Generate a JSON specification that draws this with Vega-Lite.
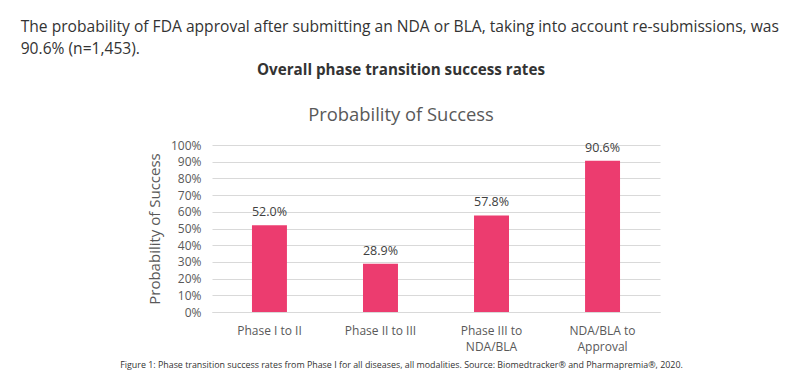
{
  "$schema": "https://vega.github.io/schema/vega-lite/v6.json",
  "padding": {"left": 20, "top": 20, "right": 5, "bottom": 5},
  "background": "white",
  "config": {"view": {"stroke": null}, "font": "Open Sans", "concat": {"spacing": 0}},
  "title": {
    "text": ["The probability of FDA approval after submitting an NDA or BLA, taking into account re-submissions, was", "90.6% (n=1,453)."],
    "anchor": "start", "frame": "bounds", "dx": -99,
    "font": "Open Sans", "fontSize": 15.6, "fontWeight": "normal", "color": "#333333", "lineHeight": 22, "offset": 5
  },
  "vconcat": [
    {
      "title": {"text": "Overall phase transition success rates", "anchor": "middle", "font": "Open Sans", "fontSize": 15.2, "fontWeight": "bold", "color": "#333333", "offset": 28},
      "vconcat": [
        {
          "width": 448,
          "height": 167,
          "data": {"values": [
            {"phase": "Phase I to II", "rate": 0.520},
            {"phase": "Phase II to III", "rate": 0.289},
            {"phase": "Phase III to NDA/BLA", "rate": 0.578},
            {"phase": "NDA/BLA to Approval", "rate": 0.906}
          ]},
          "title": {"text": "Probability of Success", "anchor": "middle", "frame": "bounds", "font": "Open Sans", "fontSize": 18.4, "fontWeight": "normal", "color": "#595959", "offset": 14.5},
          "encoding": {
            "x": {"field": "phase", "type": "nominal", "sort": null,
              "scale": {"paddingInner": 0.685, "paddingOuter": 0.36},
              "axis": {
                "title": "Figure 1: Phase transition success rates from Phase I for all diseases, all modalities. Source: Biomedtracker® and Pharmapremia®, 2020.",
                "titleFont": "Open Sans", "titleFontSize": 8.9, "titleFontWeight": "normal", "titleColor": "#333333",
                "titleX": 189, "titleY": 48, "titleAnchor": "middle", "titleAlign": "center",
                "labelAngle": 0, "labelFont": "Open Sans", "labelFontSize": 12, "labelColor": "#595959", "labelPadding": 13,
                "labelLineHeight": 16,
                "labelExpr": "datum.value == 'Phase III to NDA/BLA' ? ['Phase III to', 'NDA/BLA'] : datum.value == 'NDA/BLA to Approval' ? ['NDA/BLA to', 'Approval'] : datum.value",
                "ticks": false, "domainColor": "#d9d9d9", "domainWidth": 1
              }
            },
            "y": {"field": "rate", "type": "quantitative",
              "scale": {"domain": [0, 1]},
              "axis": {
                "title": "Probability of Success", "titleFont": "Open Sans", "titleFontSize": 15, "titleFontWeight": "normal", "titleColor": "#595959", "titlePadding": 8,
                "format": ".0%", "values": [0, 0.1, 0.2, 0.3, 0.4, 0.5, 0.6, 0.7, 0.8, 0.9, 1.0],
                "labelFont": "Open Sans", "labelFontSize": 12, "labelColor": "#595959", "labelPadding": 11,
                "ticks": false, "domain": false, "gridColor": "#d9d9d9", "gridWidth": 1
              }
            }
          },
          "layer": [
            {"mark": {"type": "bar", "color": "#EC3C6F"}},
            {"mark": {"type": "text", "baseline": "bottom", "dy": -6, "font": "Open Sans", "fontSize": 12.5, "color": "#404040"},
             "encoding": {"text": {"field": "rate", "type": "quantitative", "format": ".1%"}}}
          ]
        }
      ]
    }
  ]
}
